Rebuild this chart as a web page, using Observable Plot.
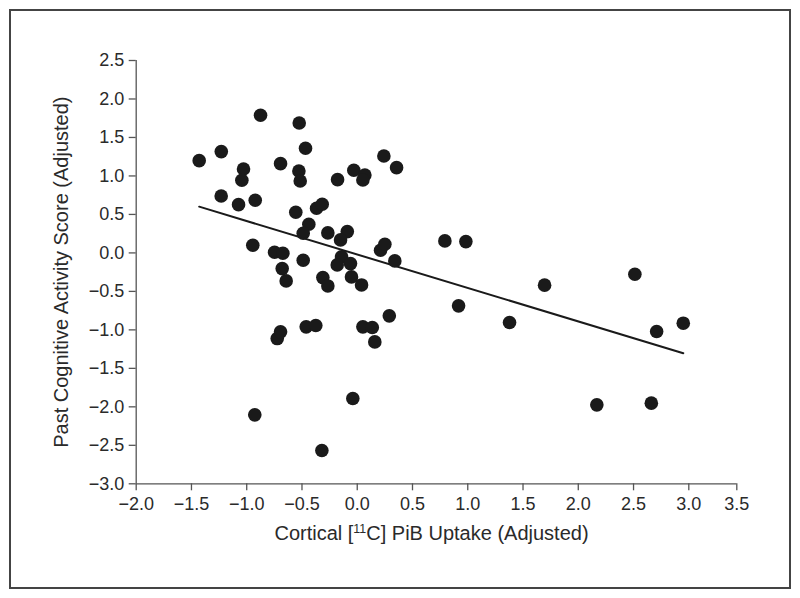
<!DOCTYPE html>
<html>
<head>
<meta charset="utf-8">
<script src="https://cdn.jsdelivr.net/npm/d3@7"></script>
<script src="https://cdn.jsdelivr.net/npm/@observablehq/plot@0.6"></script>
<style>
  html, body { margin: 0; padding: 0; background: #fff; }
  #wrap { position: relative; width: 800px; height: 598px; overflow: hidden; }
  #frame { position: absolute; left: 9px; top: 9px; width: 778px; height: 576px; border: 2px solid #444; box-sizing: content-box; pointer-events: none; }
  #chart { position: absolute; left: 0; top: 0; }
</style>
</head>
<body>
<div id="wrap"><div id="frame"></div><div id="chart"></div></div>
<script>
// Data
const xVals = [-1.43,-1.23,-0.875,-0.525,-0.468,-0.694,-1.029,-1.044,-0.528,-0.516,
  -0.178,-0.031,0.069,0.051,0.241,0.356,-1.231,-1.074,-0.923,-0.556,
  -0.368,-0.317,-0.438,-0.489,-0.266,-0.09,-0.151,-0.945,-0.748,-0.673,
  -0.489,-0.142,-0.181,-0.061,0.211,0.25,0.34,-0.679,-0.643,-0.311,
  -0.266,-0.052,0.039,-0.724,-0.694,-0.462,-0.375,0.051,0.136,0.159,
  0.29,-0.927,-0.04,-0.32,0.793,0.983,1.695,2.512,0.917,1.378,
  2.709,2.95,2.168,2.661];
const yVals = [1.199,1.316,1.788,1.688,1.36,1.16,1.091,0.944,1.065,0.935,
  0.952,1.074,1.013,0.948,1.26,1.108,0.74,0.627,0.684,0.529,
  0.581,0.632,0.373,0.256,0.26,0.277,0.169,0.1,0.009,-0.004,
  -0.095,-0.052,-0.156,-0.139,0.035,0.113,-0.104,-0.204,-0.364,-0.321,
  -0.429,-0.312,-0.416,-1.113,-1.026,-0.961,-0.944,-0.961,-0.97,-1.156,
  -0.818,-2.104,-1.892,-2.568,0.156,0.147,-0.419,-0.277,-0.688,-0.905,
  -1.022,-0.913,-1.974,-1.952];
const fitX = [-1.43, 2.95];
const fitY = [0.601, -1.303];
const xTicks = [-2.0,-1.5,-1.0,-0.5,0.0,0.5,1.0,1.5,2.0,2.5,3.0,3.5];
const yTicks = [-3.0,-2.5,-2.0,-1.5,-1.0,-0.5,0.0,0.5,1.0,1.5,2.0,2.5];
const xLabel = "Cortical [11C] PiB Uptake (Adjusted)";
const yLabel = "Past Cognitive Activity Score (Adjusted)";

const points = xVals.map((x, i) => ({x, y: yVals[i]}));
const fit = fitX.map((x, i) => ({x, y: fitY[i]}));

const FONT = "'Liberation Sans', Arial, sans-serif";
const fmt = d3.format(".1f");

const chart = Plot.plot({
  width: 800,
  height: 598,
  marginLeft: 135.7,
  marginRight: 63.7,
  marginTop: 60,
  marginBottom: 114.7,
  style: {fontFamily: FONT, fontSize: "18px", color: "#2a2a2a", background: "transparent", overflow: "visible"},
  x: {type: "linear", domain: [-2, 3, 3.5], range: [135.7, 688.3, 736.3]},
  y: {type: "linear", domain: [-3, 2.5], range: [483.3, 60]},
  marks: [
    Plot.ruleY([-3], {x1: -2, x2: 3.5, stroke: "#555", strokeWidth: 1.3}),
    Plot.ruleX([-2], {y1: -3, y2: 2.5, stroke: "#555", strokeWidth: 1.3}),
    Plot.axisX({ticks: xTicks, tickFormat: fmt, tickSize: 7, tickPadding: 6, label: null, fontSize: 18, stroke: "#555", strokeWidth: 1.3, fill: "#2a2a2a"}),
    Plot.axisY({ticks: yTicks, tickFormat: fmt, tickSize: 7, tickPadding: 5, label: null, fontSize: 18, stroke: "#555", strokeWidth: 1.3, fill: "#2a2a2a"}),
    Plot.line(fit, {x: "x", y: "y", stroke: "#1a1a1a", strokeWidth: 2}),
    Plot.dot(points, {x: "x", y: "y", r: 6.8, fill: "#1a1a1a", stroke: "none"}),
    Plot.text([xLabel], {frameAnchor: "bottom", dx: -5, dy: 50, fontSize: 20, fill: "#2a2a2a", textAnchor: "middle", lineAnchor: "middle"}),
    Plot.text([yLabel], {frameAnchor: "left", dx: -75, rotate: -90, fontSize: 20, fill: "#2a2a2a", textAnchor: "middle", lineAnchor: "middle"})
  ]
});

document.getElementById("chart").appendChild(chart);

// Superscript the isotope mass number in the x label
d3.select(chart).selectAll("text").each(function() {
  const t = d3.select(this);
  const s = t.text();
  const m = s.match(/^(.*\[)(\d+)(C\].*)$/);
  if (m && s === xLabel) {
    t.text(null);
    t.append("tspan").text(m[1]);
    t.append("tspan").attr("font-size", "0.62em").attr("dy", "-0.55em").text(m[2]);
    t.append("tspan").attr("dy", "0.34em").text(m[3]);
  }
});
</script>
</body>
</html>
